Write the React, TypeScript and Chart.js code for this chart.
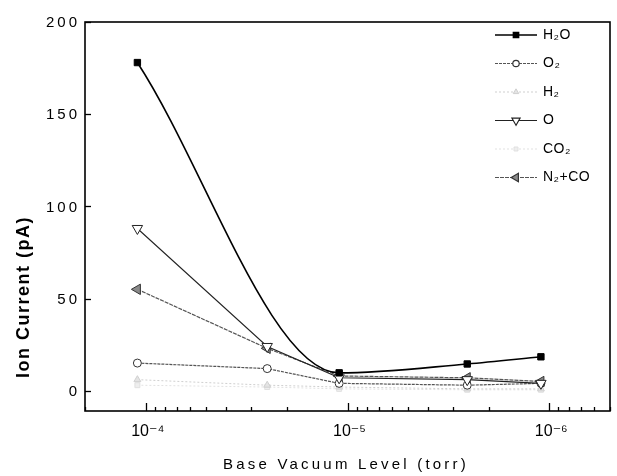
import React, { useEffect, useRef } from 'react';
import { Chart, registerables } from 'chart.js';
import { drawPoint } from 'chart.js/helpers';

Chart.register(...registerables);

// ---- data ----
const pressures = [1.1e-4, 2.5e-5, 1.1e-5, 2.55e-6, 1.1e-6];
const seriesNames = ['H₂O', 'O₂', 'H₂', 'O', 'CO₂', 'N₂+CO'];
const h2o = [178, null, 9.7, 14.5, 18.4];
const o2 = [15, 12, 4, 3, 4];
const h2 = [6, 3, 2, 1, 1];
const oxygen = [88, 24, 7, 6, 4];
const co2 = [3, 2, 1, 0.5, 0.5];
const n2co = [55, 23, 8, 7, 5];
const yTicks = [0, 50, 100, 150, 200];
const xMajorTicks = [1e-4, 1e-5, 1e-6];
const xTickLabels = ['10⁻⁴', '10⁻⁵', '10⁻⁶'];
const xMin = 5e-7;
const xMax = 2e-4;
const yMin = -11;
const yMax = 200;
const yTitle = 'Ion Current (pA)';
const xTitle = 'Base Vacuum Level (torr)';

const seriesValues = [h2o, o2, h2, oxygen, co2, n2co];

const styles = [
  { color: '#000', width: 1.6, dash: [], pointStyle: 'rect', rotation: 0, radius: 4.5, fill: '#000', border: '#000', monotone: true },
  { color: '#555', width: 1.2, dash: [3, 1], pointStyle: 'circle', rotation: 0, radius: 4, fill: '#fff', border: '#333', monotone: false },
  { color: '#cfcfcf', width: 1, dash: [2, 2], pointStyle: 'triangle', rotation: 0, radius: 4, fill: '#e4e4e4', border: '#cfcfcf', monotone: false },
  { color: '#222', width: 1.1, dash: [], pointStyle: 'triangle', rotation: 180, radius: 6, fill: '#fff', border: '#222', monotone: false },
  { color: '#e2e2e2', width: 1, dash: [2, 2], pointStyle: 'rect', rotation: 0, radius: 3.5, fill: '#eee', border: '#e0e0e0', monotone: false },
  { color: '#555', width: 1.2, dash: [4, 1], pointStyle: 'triangle', rotation: 270, radius: 6, fill: '#8a8a8a', border: '#333', monotone: false },
];

const decorPlugin = {
  id: 'decor',
  afterDraw(chart: any) {
    const ctx: CanvasRenderingContext2D = chart.ctx;
    const area = chart.chartArea;
    const xs = chart.scales.x;
    const ys = chart.scales.y;
    ctx.save();
    ctx.setLineDash([]);
    ctx.strokeStyle = '#000';
    // frame
    ctx.lineWidth = 1.6;
    ctx.strokeRect(area.left, area.top, area.right - area.left, area.bottom - area.top);
    // y ticks
    ctx.lineWidth = 1.3;
    yTicks.forEach((v) => {
      const y = Math.round(ys.getPixelForValue(v)) + 0.5;
      ctx.beginPath();
      ctx.moveTo(area.left, y);
      ctx.lineTo(area.left + 6, y);
      ctx.stroke();
    });
    // x ticks (major + minor)
    for (let e = -7; e <= -3; e++) {
      for (let m = 1; m <= 9; m++) {
        const v = m * Math.pow(10, e);
        if (v < xMin || v > xMax) continue;
        const x = Math.round(xs.getPixelForValue(v)) + 0.5;
        const len = m === 1 ? 8 : 4;
        ctx.beginPath();
        ctx.moveTo(x, area.bottom);
        ctx.lineTo(x, area.bottom - len);
        ctx.stroke();
      }
    }
    // y tick labels
    ctx.fillStyle = '#000';
    ctx.font = '15px Arial, "Liberation Sans", sans-serif';
    (ctx as any).letterSpacing = '3px';
    ctx.textAlign = 'right';
    ctx.textBaseline = 'middle';
    yTicks.forEach((v) => {
      ctx.fillText(String(v), area.left - 5, ys.getPixelForValue(v) + 1);
    });
    // x tick labels
    (ctx as any).letterSpacing = '0px';
    ctx.font = '16px Arial, "Liberation Sans", "DejaVu Sans", sans-serif';
    ctx.textAlign = 'center';
    ctx.textBaseline = 'alphabetic';
    xMajorTicks.forEach((v, i) => {
      ctx.fillText(xTickLabels[i], xs.getPixelForValue(v) + 2, area.bottom + 25);
    });
    // y title
    ctx.save();
    ctx.translate(24, 297);
    ctx.rotate(-Math.PI / 2);
    ctx.font = 'bold 18px Arial, "Liberation Sans", sans-serif';
    (ctx as any).letterSpacing = '1.5px';
    ctx.textAlign = 'center';
    ctx.textBaseline = 'middle';
    ctx.fillText(yTitle, 0, 0);
    ctx.restore();
    // x title
    ctx.font = '15px Arial, "Liberation Sans", sans-serif';
    (ctx as any).letterSpacing = '3.2px';
    ctx.textAlign = 'center';
    ctx.textBaseline = 'middle';
    ctx.fillText(xTitle, 346, 465);
    // legend
    (ctx as any).letterSpacing = '0.5px';
    ctx.font = '14px Arial, "Liberation Sans", "DejaVu Sans", sans-serif';
    ctx.textAlign = 'left';
    seriesNames.forEach((name, i) => {
      const s = styles[i];
      const y = 35 + i * 28.5;
      ctx.save();
      ctx.strokeStyle = s.color;
      ctx.lineWidth = s.width;
      ctx.setLineDash(s.dash);
      ctx.beginPath();
      ctx.moveTo(495, y);
      ctx.lineTo(537, y);
      ctx.stroke();
      ctx.setLineDash([]);
      ctx.fillStyle = s.fill;
      ctx.strokeStyle = s.border;
      drawPoint(ctx, { pointStyle: s.pointStyle, rotation: s.rotation, radius: s.radius * 0.8, borderWidth: 1 } as any, 516, y);
      ctx.restore();
      ctx.fillStyle = '#000';
      ctx.textBaseline = 'middle';
      ctx.fillText(name, 543, y);
    });
    ctx.restore();
  },
};

export default function App() {
  const ref = useRef<HTMLCanvasElement | null>(null);
  useEffect(() => {
    if (!ref.current) return;
    const datasets = seriesValues.map((vals, i) => {
      const s = styles[i];
      return {
        label: seriesNames[i],
        data: pressures
          .map((x, j) => ({ x, y: vals[j] }))
          .filter((p) => p.y !== null && p.y !== undefined),
        borderColor: s.color,
        borderWidth: s.width,
        borderDash: s.dash,
        backgroundColor: s.fill,
        pointBackgroundColor: s.fill,
        pointBorderColor: s.border,
        pointBorderWidth: 1,
        pointStyle: s.pointStyle,
        pointRotation: s.rotation,
        pointRadius: s.radius,
        cubicInterpolationMode: s.monotone ? 'monotone' : 'default',
        tension: 0,
        fill: false,
      };
    });
    // draw faint series first
    const order = [4, 2, 1, 5, 3, 0];
    const chart = new Chart(ref.current, {
      type: 'line',
      data: { datasets: order.map((k) => ({ ...datasets[k], order: order.length - order.indexOf(k) })) as any },
      options: {
        animation: false,
        responsive: true,
        maintainAspectRatio: false,
        layout: { padding: { left: 85, right: 6, top: 22, bottom: 65 } },
        plugins: { legend: { display: false }, tooltip: { enabled: false } },
        scales: {
          x: { type: 'logarithmic', min: xMin, max: xMax, reverse: true, display: false },
          y: { type: 'linear', min: yMin, max: yMax, display: false },
        },
      },
      plugins: [decorPlugin],
    });
    return () => chart.destroy();
  }, []);
  return (
    <div style={{ position: 'fixed', left: 0, top: 0, width: 617, height: 476, background: '#fff' }}>
      <canvas ref={ref} />
    </div>
  );
}
